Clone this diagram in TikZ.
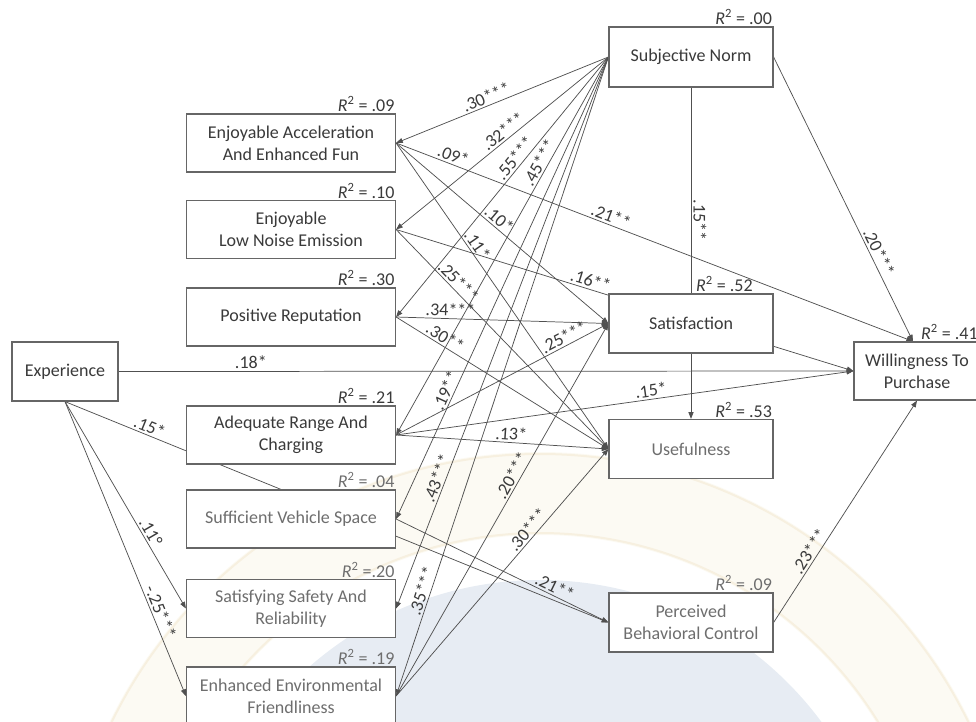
\documentclass[tikz,border=0pt]{standalone}
\usepackage{fontspec}
\setmainfont{Carlito}
\usetikzlibrary{arrows.meta,calc}
\definecolor{ink}{HTML}{3A3A3A}
\definecolor{fade}{HTML}{6E6E6E}
\definecolor{edge}{HTML}{505050}
\definecolor{frame}{HTML}{666666}
\definecolor{sealblue}{HTML}{E7ECF3}
\definecolor{sealring}{HTML}{FCFAF3}
\definecolor{sealline}{HTML}{F7F0E0}
\pgfdeclarelayer{seal}
\pgfdeclarelayer{wires}
\pgfsetlayers{seal,wires,main}
\begin{document}
\begin{tikzpicture}[x=0.75pt,y=-0.75pt,
  txt/.style={font=\fontsize{13.5}{16.5}\selectfont},
  box/.style={txt, draw=frame, line width=0.9pt, fill=white, text=ink, align=center, inner sep=2pt},
  lbox/.style={box, minimum width=156.75pt, minimum height=43.5pt},
  rbox/.style={box, minimum width=123pt, minimum height=44.25pt},
  r2/.style={txt, text=ink, inner sep=1pt},
  link/.style={draw=edge, line width=0.55pt, -{Triangle[length=5pt,width=3.8pt]}},
  lab/.style={txt, text=ink, inner sep=1.5pt, sloped, above}]
\useasboundingbox (0,0) rectangle (976,722);

% university seal in the background
\begin{pgfonlayer}{seal}
  \fill[sealring, even odd rule] (540,930) circle (478) (540,930) circle (395);
  \draw[sealline, line width=1.5pt] (540,930) circle (476) (540,930) circle (397);
  \fill[sealblue] (540,930) circle (350);
\end{pgfonlayer}

% constructs
\node[lbox] (EA) at (291,143) {Enjoyable Acceleration\\And Enhanced Fun};
\node[lbox] (LN) at (291,229.5) {Enjoyable\\Low Noise Emission};
\node[lbox] (PR) at (291,317) {Positive Reputation};
\node[lbox] (AR) at (291,435) {Adequate Range And\\Charging};
\node[lbox, text=fade] (SVS) at (291,519) {Sufficient Vehicle Space};
\node[lbox, text=fade] (SSR) at (291,608.5) {Satisfying Safety And\\Reliability};
\node[lbox, text=fade] (EEF) at (291,696) {Enhanced Environmental\\Friendliness};
\node[box, minimum width=79.5pt, minimum height=44.25pt] (EXP) at (65,371.5) {Experience};
\node[rbox, minimum height=45pt] (SN) at (691,57) {Subjective Norm};
\node[rbox] (SAT) at (691,323.5) {Satisfaction};
\node[rbox, text=fade] (USE) at (691,449) {Usefulness};
\node[rbox, text=fade] (PBC) at (691,622.5) {Perceived\\Behavioral Control};
\node[box, minimum width=94.5pt, minimum height=43.5pt] (WTP) at (917,371) {Willingness To\\Purchase};
\coordinate (wtpTop) at ($(WTP.north)+(-4,0)$);

% explained variance
\node[r2, anchor=south east] (rSN) at (SN.north east) {\textit{R}\textsuperscript{2} = .00};
\node[r2, anchor=south east] (rEA) at (EA.north east) {\textit{R}\textsuperscript{2} = .09};
\node[r2, anchor=south east] (rLN) at (LN.north east) {\textit{R}\textsuperscript{2} = .10};
\node[r2, anchor=south east] (rPR) at (PR.north east) {\textit{R}\textsuperscript{2} = .30};
\node[r2, anchor=south east] (rAR) at (AR.north east) {\textit{R}\textsuperscript{2} = .21};
\node[r2, anchor=south east, text=fade] (rSVS) at (SVS.north east) {\textit{R}\textsuperscript{2} = .04};
\node[r2, anchor=south east, text=fade] (rSSR) at (SSR.north east) {\textit{R}\textsuperscript{2} =.20};
\node[r2, anchor=south east, text=fade] (rEEF) at (EEF.north east) {\textit{R}\textsuperscript{2} = .19};
\node[r2, anchor=south west] (rSAT) at ($(SAT.north west)+(86,0)$) {\textit{R}\textsuperscript{2} = .52};
\node[r2, anchor=south east] (rUSE) at (USE.north east) {\textit{R}\textsuperscript{2} = .53};
\node[r2, anchor=south east, text=fade] (rPBC) at (PBC.north east) {\textit{R}\textsuperscript{2} = .09};
\node[r2, anchor=south west] (rWTP) at ($(WTP.north west)+(66,0)$) {\textit{R}\textsuperscript{2} = .41};

\begin{pgfonlayer}{wires}
% paths from Subjective Norm
\draw[link] (SN.west) -- node[lab,pos=.56] (p1) {.30***} (EA.east);
\draw[link] (SN.west) -- node[lab,pos=.47] (p2) {.32***} (LN.east);
\draw[link] (SN.west) -- node[lab,pos=.41] (p3) {.55***} (PR.east);
\draw[link] (SN.west) -- node[lab,pos=.29] (p4) {.45***} (AR.east);
\draw[link] (SN.west) -- node[lab,pos=.73] (p5) {.19**} (SVS.east);
\draw[link] (SN.west) -- node[lab,pos=.77] (p6) {.43***} (SSR.east);
\draw[link] (SN.west) -- node[lab,pos=.84] (p7) {.35***} (EEF.east);
\draw[link] (SN.south) -- node[lab,pos=.40] (p8) {.15**} (USE.north);
\draw[link] (SN.east) -- node[lab,pos=.70] (p9) {.20***} (wtpTop);
% paths from Enjoyable Acceleration
\draw[link] (EA.east) -- node[lab,pos=.105] (p10) {.09*} node[lab,pos=.41] (p11) {.21**} (wtpTop);
\draw[link] (EA.east) -- node[lab,pos=.46] (p12) {.10*} (SAT.west);
\draw[link] (EA.east) -- node[lab,pos=.35] (p13) {.11*} (USE.west);
% paths from Low Noise Emission
\draw[link] (LN.east) -- node[lab,pos=.265] (p14) {.25***} (USE.west);
\draw[link] (LN.east) -- node[lab,pos=.42] (p15) {.16**} (WTP.west);
% paths from Positive Reputation
\draw[link] (PR.east) -- node[lab,pos=.255] (p16) {.34***} (SAT.west);
\draw[link] (PR.east) -- node[lab,pos=.21] (p17) {.30**} (USE.west);
% paths from Adequate Range
\draw[link] (AR.east) -- node[lab,pos=.81] (p18) {.25***} (SAT.west);
\draw[link] (AR.east) -- node[lab,pos=.54] (p19) {.13*} (USE.west);
\draw[link] (AR.east) -- node[lab,pos=.56] (p20) {.15*} (WTP.west);
% paths from Experience
\draw[link] (EXP.east) -- node[lab,pos=.18] (p21) {.18*} (WTP.west);
\draw[link] (EXP.south) -- node[lab,pos=.15] (p22) {.15*} (PBC.west);
\draw[link] (EXP.south) -- node[lab,pos=.65] (p23) {.11°} (SSR.west);
\draw[link] (EXP.south) -- node[lab,pos=.725] (p24) {-.25***} (EEF.west);
% paths from Environmental Friendliness
\draw[link] (EEF.east) -- node[lab,pos=.58] (p25) {.20***} (SAT.west);
\draw[link] (EEF.east) -- node[lab,pos=.65] (p26) {.30***} (USE.west);
% remaining paths
\draw[link] (SVS.east) -- node[lab,pos=.73] (p27) {.21**} (PBC.west);
\draw[link] (PBC.east) -- node[lab,pos=.30] (p28) {.23***} (WTP.south);
\end{pgfonlayer}
\end{tikzpicture}
\end{document}
